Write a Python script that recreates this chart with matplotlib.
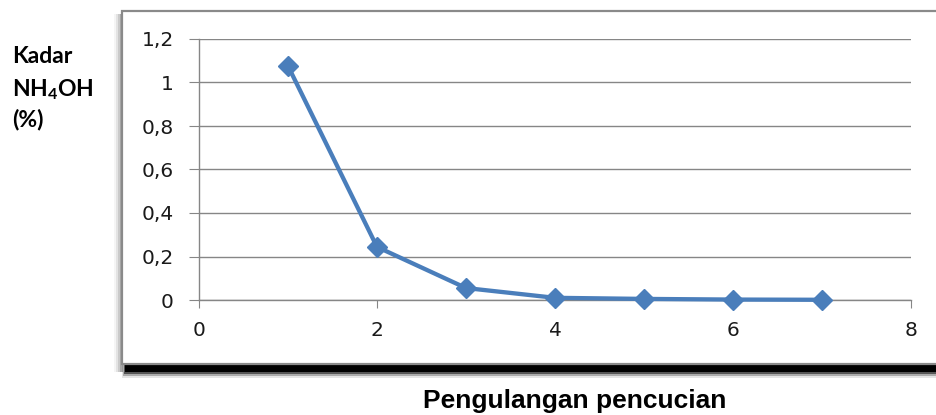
import matplotlib
matplotlib.use('Agg')
import matplotlib.pyplot as plt
from matplotlib.patches import Rectangle

plt.rcParams['mathtext.fontset'] = 'custom'
plt.rcParams['mathtext.rm'] = 'Lato:bold'
plt.rcParams['mathtext.it'] = 'Lato:bold'
plt.rcParams['mathtext.bf'] = 'Lato:bold'

# ---- data ----
x_vals = [1, 2, 3, 4, 5, 6, 7]
y_vals = [1.076, 0.244, 0.055, 0.010, 0.005, 0.002, 0.001]
x_ticks = [0, 2, 4, 6, 8]
x_tick_labels = ['0', '2', '4', '6', '8']
y_ticks = [0, 0.2, 0.4, 0.6, 0.8, 1.0, 1.2]
y_tick_labels = ['0', '0,2', '0,4', '0,6', '0,8', '1', '1,2']
y_label_lines = ['Kadar', 'NH$_4$OH', '(%)']
x_label = 'Pengulangan pencucian'

W, H = 937, 415
fig = plt.figure(figsize=(W / 100, H / 100), dpi=100)


def fx(p):
    return p / W


def fy(p):
    return 1 - p / H


def rect(x0, y0, x1, y1, **kw):
    r = Rectangle((fx(x0), fy(y1)), fx(x1) - fx(x0), fy(y0) - fy(y1),
                  transform=fig.transFigure, **kw)
    fig.add_artist(r)
    return r


# soft shadow on left
for i, a in enumerate([0.04, 0.07, 0.11, 0.16]):
    rect(114 + 2 * i, 14, 123, 372, facecolor='black', edgecolor='none', alpha=a, zorder=-5)
# bottom heavy shadow
for i, a in enumerate([0.1, 0.25, 0.5]):
    rect(122 + i, 364, 945, 378 - 2 * i, facecolor='black', edgecolor='none', alpha=a, zorder=-4)
rect(125, 364, 945, 372, facecolor='black', edgecolor='none', zorder=-4)
# frame
rect(122, 11, 945, 364, facecolor='white', edgecolor='#8a8a8a', lw=1.6, zorder=-3)

ax = fig.add_axes([fx(199), fy(300), fx(911) - fx(199), (300 - 39) / H])
ax.set_facecolor('none')
ax.set_xlim(0, 8)
ax.set_ylim(0, 1.2)
ax.set_xticks(x_ticks)
ax.set_xticklabels(x_tick_labels)
ax.set_yticks(y_ticks)
ax.set_yticklabels(y_tick_labels)

gray = '#868686'
ax.grid(axis='y', color=gray, lw=1.0)
ax.set_axisbelow(True)
for s in ['top', 'right']:
    ax.spines[s].set_visible(False)
for s in ['left', 'bottom']:
    ax.spines[s].set_color(gray)
    ax.spines[s].set_linewidth(1.0)
ax.tick_params(axis='y', length=7, width=0.8, color=gray, pad=11,
               labelsize=14.5, labelcolor='#1a1a1a')
ax.tick_params(axis='x', length=6, width=0.8, color=gray, pad=9,
               labelsize=14.5, labelcolor='#1a1a1a')
for lab in ax.get_xticklabels() + ax.get_yticklabels():
    lab.set_fontfamily('DejaVu Sans')

ax.plot(x_vals, y_vals, color='#4A7EBB', lw=3.1, marker='D', ms=10.5,
        markeredgecolor='#4A7EBB', clip_on=False, zorder=3)

# y label lines
ybase = [62.7, 96, 126]
for txt, yb in zip(y_label_lines, ybase):
    fig.text(fx(12), fy(yb), txt, ha='left', va='baseline', fontsize=16.5,
             fontweight='bold', family='Lato', color='black')

fig.text(fx(574.5), fy(408), x_label, ha='center', va='baseline', fontsize=19,
         fontweight='bold', family='Liberation Sans', color='black')

fig.savefig('out.png', dpi=100)
